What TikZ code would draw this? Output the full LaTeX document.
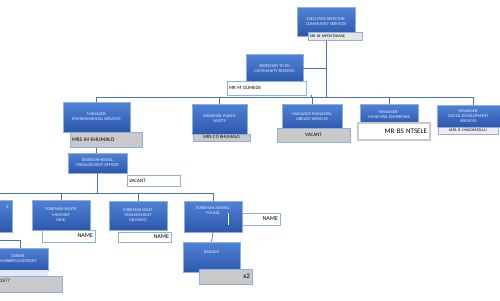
\documentclass[tikz,border=0pt]{standalone}
\usepackage{fontspec}
\setmainfont{Carlito}
\usetikzlibrary{calc}
\definecolor{boxtop}{HTML}{4F82D6}
\definecolor{boxbot}{HTML}{2C58AC}
\definecolor{boxedge}{HTML}{8FAEE2}
\definecolor{linecol}{HTML}{4A72C0}
\definecolor{grayfill}{HTML}{C9C9C9}
\tikzset{
  bluebox/.style={rectangle, draw=boxedge, line width=0.8pt, top color=boxtop, bottom color=boxbot,
    text=white!92!blue, align=center, inner sep=1pt, font=\fontsize{4.3}{5.2}\selectfont},
  namewhite/.style={rectangle, draw=boxedge, line width=0.6pt, fill=white, text=black,
    inner sep=2pt, font=\fontsize{4.6}{5}\selectfont},
  namegray/.style={rectangle, draw=boxedge, line width=0.6pt, fill=grayfill, text=black,
    inner sep=2pt, font=\fontsize{4.6}{5}\selectfont},
  conn/.style={draw=linecol, line width=0.7pt},
}
\begin{document}
\begin{tikzpicture}[x=1pt,y=-1pt]
\useasboundingbox (0,0) rectangle (500,300);
\fill[white] (0,0) rectangle (500,300);
\clip (0,0) rectangle (500,300);
% coordinates for bars
\coordinate (b1) at (0,97);
\coordinate (b2) at (0,193);
\coordinate (g1) at (20,240);
% nodes
\node[bluebox, minimum width=58, minimum height=29] (exec) at (326,21.5) {EXECUTIVE DIRECTOR:\\COMMUNITY SERVICES};
\node[bluebox, minimum width=57, minimum height=29] (sec) at (274.5,68.5) {SECRETARY TO ED\\COMMUNITY SERVICES};
\node[bluebox, minimum width=67, minimum height=30] (envm) at (96.5,117) {MANAGER\\ENVIRONMENTAL SERVICES};
\node[bluebox, minimum width=55, minimum height=30] (psm) at (219.5,119) {MANAGER \ PUBLIC\\SAFETY};
\node[bluebox, minimum width=60, minimum height=26] (lib) at (312,117) {MANAGER MUNICIPAL\\LIBRARY SERVICES};
\node[bluebox, minimum width=58, minimum height=21] (ent) at (389,114.5) {MANAGER :\\MUNICIPAL ENTERPISES};
\node[bluebox, minimum width=63, minimum height=22] (soc) at (468.5,116) {MANAGER:\\SOCIAL DEVELOPMENT\\SERVICES};
\node[bluebox, minimum width=59, minimum height=20] (emo) at (97.5,163) {ENVIRONMENTAL\\MANAGEMENT OFFICER};
\node[bluebox, minimum width=52, minimum height=32] (leftbox) at (-14,216) {};
\node[bluebox, minimum width=58, minimum height=30] (fwm) at (61,215) {FOREMAN WASTE\\MNGMNT\\(NIN)};
\node[bluebox, minimum width=58, minimum height=29] (fwn) at (138,215.5) {FOREMAN WAST\\MANAGEMENT\\(NDUMO)};
\node[bluebox, minimum width=58, minimum height=31] (fap) at (213,216.5) {FOREMAN ANIMAL\\POUND\\[6pt]};
\node[bluebox, minimum width=57, minimum height=30] (ranger) at (211.5,257) {RANGER\\[5pt]};
\node[bluebox, minimum width=60, minimum height=22] (gen) at (18,259) {GENERL\\WORKERS/ASSISTANT};
% connectors
\draw[conn] (exec.south) -- (exec.south |- b1);
\draw[conn] (sec.east) -- (sec.east -| exec.south);
\draw[conn] (envm.north) -- (envm.north |- b1) -| ($(soc.north)+(4.5,0)$);
\draw[conn] (psm.north) -- (psm.north |- b1);
\draw[conn] (lib.north) -- (lib.north |- b1);
\draw[conn] (ent.north) -- (ent.north |- b1);
\draw[conn] (envm.south) -- (envm.south |- emo.north);
\draw[conn] (emo.south) -- (emo.south |- b2);
\draw[conn] (leftbox.north) -- (leftbox.north |- b2) -| (fap.north);
\draw[conn] (fwm.north) -- (fwm.north |- b2);
\draw[conn] (fwn.north) -- (fwn.north |- b2);
\draw[conn] (fap.south) -- (ranger.north);
\draw[conn] (leftbox.south) |- (g1) -- (g1 |- gen.north);
\draw[conn] (311,95) -- (311,97);
% small line inside animal pound box
\draw[white, line width=0.4pt] (228,213) -- (228,225);
% name boxes
\node[namegray, minimum width=54, minimum height=8, text width=50, align=left, font=\fontsize{3.9}{4}\selectfont, fill=gray!20] (execname) at (335,36) {MR LB MPONTSHANE};
\node[namewhite, minimum width=79, minimum height=14, text width=75, align=left, font=\fontsize{4.8}{5}\selectfont] (secname) at (266.5,88) {MR M GUMEDE};
\node[namegray, minimum width=72, minimum height=15, text width=68, align=left, font=\fontsize{5.5}{5.5}\selectfont] (envname) at (106,139.5) {MRS IN KHUMALO};
\node[namegray, minimum width=57, minimum height=7, inner sep=0.5pt, font=\fontsize{4.6}{4.6}\selectfont] (psname) at (221.5,137.5) {MRS Z O KHUMALO};
\node[namegray, minimum width=73, minimum height=14, font=\fontsize{5}{5}\selectfont] (libname) at (313.5,135) {VACANT};
\node[namewhite, minimum width=72, minimum height=17, text width=66, align=right, draw=grayfill, line width=1.2pt, font=\fontsize{7}{7}\selectfont] (entname) at (394,131.5) {MR BS NTSELE};
\node[namewhite, minimum width=60, minimum height=7, inner sep=0.5pt, font=\fontsize{3.9}{4}\selectfont, fill=gray!15] (socname) at (468,130.5) {MRS. B. MNGOMEZULU};
\node[namewhite, minimum width=53, minimum height=11, text width=49, align=left, font=\fontsize{5}{5}\selectfont] (emoname) at (153.5,180.5) {VACANT};
\node[namewhite, minimum width=53, minimum height=12, text width=49, align=right, font=\fontsize{6}{6}\selectfont] (fwmname) at (68.5,236) {NAME};
\node[namewhite, minimum width=53, minimum height=10, text width=49, align=right, font=\fontsize{6}{6}\selectfont] (fwnname) at (144.5,237) {NAME};
\node[namewhite, minimum width=38, minimum height=12, text width=34, align=right, font=\fontsize{6}{6}\selectfont] (fapname) at (261,219) {NAME};
\node[namegray, minimum width=53, minimum height=15, text width=49, align=right, font=\fontsize{7}{7}\selectfont] (rangername) at (225.5,276.5) {x2};
\fill[white!90!blue] (-12,270) rectangle (48,276);
\node[namegray, minimum width=74, minimum height=16, anchor=north west] (genname) at (-12,276) {};
\node[font=\fontsize{5}{5}\selectfont, anchor=west, inner sep=0] (gentext) at (0,281) {35??};
\node[font=\fontsize{4.3}{4.5}\selectfont, text=white, anchor=east, inner sep=0] (lefttext) at (9,207) {E};
\end{tikzpicture}
\end{document}
